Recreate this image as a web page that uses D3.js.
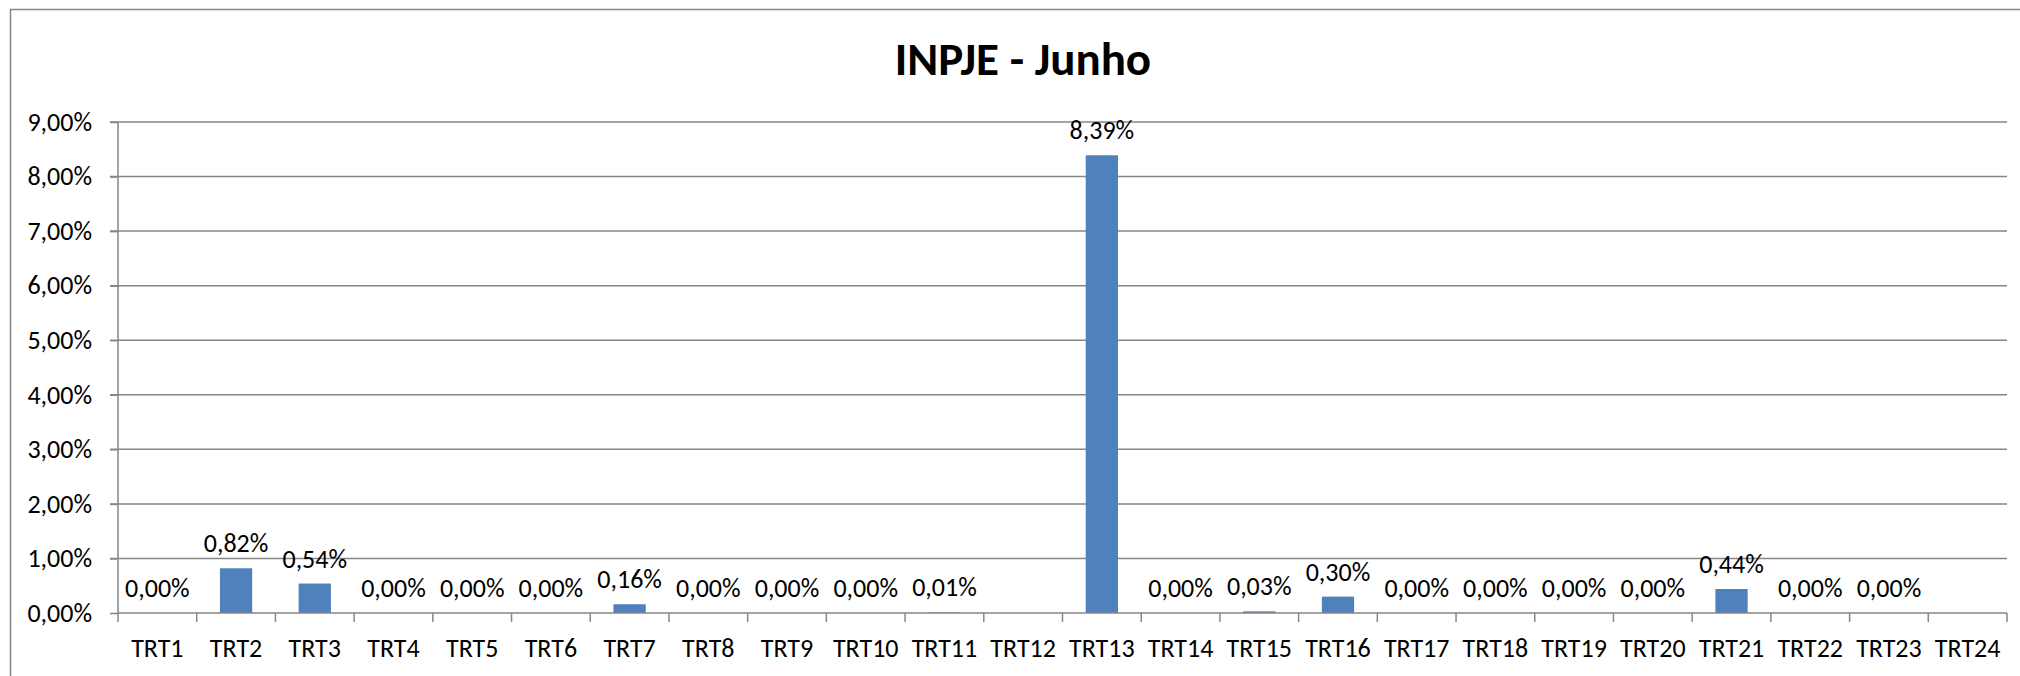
<!DOCTYPE html>
<html>
<head>
<meta charset="utf-8">
<script src="https://cdn.jsdelivr.net/npm/d3@7"></script>
<style>
  html, body { margin: 0; padding: 0; background: #fff; }
  svg { display: block; }
  text { font-family: Carlito, Calibri, Lato, sans-serif; fill: #000; }
</style>
</head>
<body>
<svg id="chart" width="2020" height="676"></svg>
<script>
// dados (valores em %)
var title = 'INPJE - Junho';
var categorias = d3.range(1, 25).map(i => 'TRT' + i);
var valores = [0, 0.82, 0.54, 0, 0, 0, 0.16, 0, 0, 0, 0.01, null,
               8.39, 0, 0.03, 0.30, 0, 0, 0, 0, 0.44, 0, 0, null];
var yTicks = [0, 1, 2, 3, 4, 5, 6, 7, 8, 9];

var W = 2020, H = 676,
    m = {left: 118, right: 13, top: 122, bottom: 63},
    grey = '#868686', azul = '#4f81bd', fs = '26px',
    svg = d3.select('#chart');

var loc = d3.formatLocale({decimal: ',', thousands: '.', grouping: [3], currency: ['R$', '']});
var pct = v => loc.format('.2f')(v) + '%';

var x = d3.scaleBand().domain(categorias).range([m.left, W - m.right]).paddingInner(0.59).paddingOuter(0.295);
var xb = d3.scaleBand().domain(categorias).range([m.left, W - m.right]); // limites das categorias
var y = d3.scaleLinear().domain([0, 9]).range([H - m.bottom, m.top]);

// borda da área do gráfico (continua além da janela à direita e em baixo)
svg.append('rect')
    .attr('x', 10.5).attr('y', 9.5).attr('width', W + 20).attr('height', H + 20)
    .attr('fill', 'none').attr('stroke', grey).attr('stroke-width', 1.5);

svg.append('text')
    .attr('x', 1023).attr('y', 75)
    .attr('text-anchor', 'middle')
    .style('font-size', '47px').style('font-weight', 'bold')
    .text(title);

// linhas de grade
svg.append('g').selectAll('line').data(yTicks.slice(1)).enter().append('line')
    .attr('x1', m.left - 8).attr('x2', W - m.right)
    .attr('y1', d => y(d)).attr('y2', d => y(d))
    .attr('stroke', grey).attr('stroke-width', 1.5);

// eixo y
var gy = svg.append('g').attr('transform', 'translate(' + m.left + ',0)')
    .call(d3.axisLeft(y).tickValues(yTicks).tickFormat(pct).tickSize(8).tickPadding(18));
gy.select('.domain').attr('stroke', grey).attr('stroke-width', 1.5).attr('d', 'M0,' + y(9) + 'V' + y(0));
gy.selectAll('.tick line').attr('stroke', grey).attr('stroke-width', 1.5);
gy.selectAll('.tick text').style('font-size', fs).attr('font-family', null);

// barras
svg.append('g').selectAll('rect').data(valores.map((v, i) => ({c: categorias[i], v: v})).filter(d => d.v != null))
    .enter().append('rect')
    .attr('x', d => x(d.c)).attr('width', x.bandwidth())
    .attr('y', d => y(d.v)).attr('height', d => y(0) - y(d.v))
    .attr('fill', azul);

// eixo x
var gx = svg.append('g').attr('transform', 'translate(0,' + y(0) + ')');
gx.append('line').attr('x1', m.left).attr('x2', W - m.right)
    .attr('stroke', grey).attr('stroke-width', 1.5);
gx.selectAll('line.tk').data(categorias.concat(['fim'])).enter().append('line')
    .attr('class', 'tk')
    .attr('x1', (d, i) => i < categorias.length ? xb(d) : W - m.right)
    .attr('x2', (d, i) => i < categorias.length ? xb(d) : W - m.right)
    .attr('y1', 0).attr('y2', 9)
    .attr('stroke', grey).attr('stroke-width', 1.5);
gx.selectAll('text').data(categorias).enter().append('text')
    .attr('x', d => xb(d) + xb.bandwidth() / 2).attr('y', 44)
    .attr('text-anchor', 'middle').style('font-size', fs)
    .text(d => d);

// rótulos de dados
svg.append('g').selectAll('text').data(valores.map((v, i) => ({c: categorias[i], v: v})).filter(d => d.v != null))
    .enter().append('text')
    .attr('x', d => x(d.c) + x.bandwidth() / 2)
    .attr('y', d => y(d.v) - 16)
    .attr('text-anchor', 'middle').style('font-size', fs)
    .text(d => pct(d.v));
</script>
</body>
</html>
